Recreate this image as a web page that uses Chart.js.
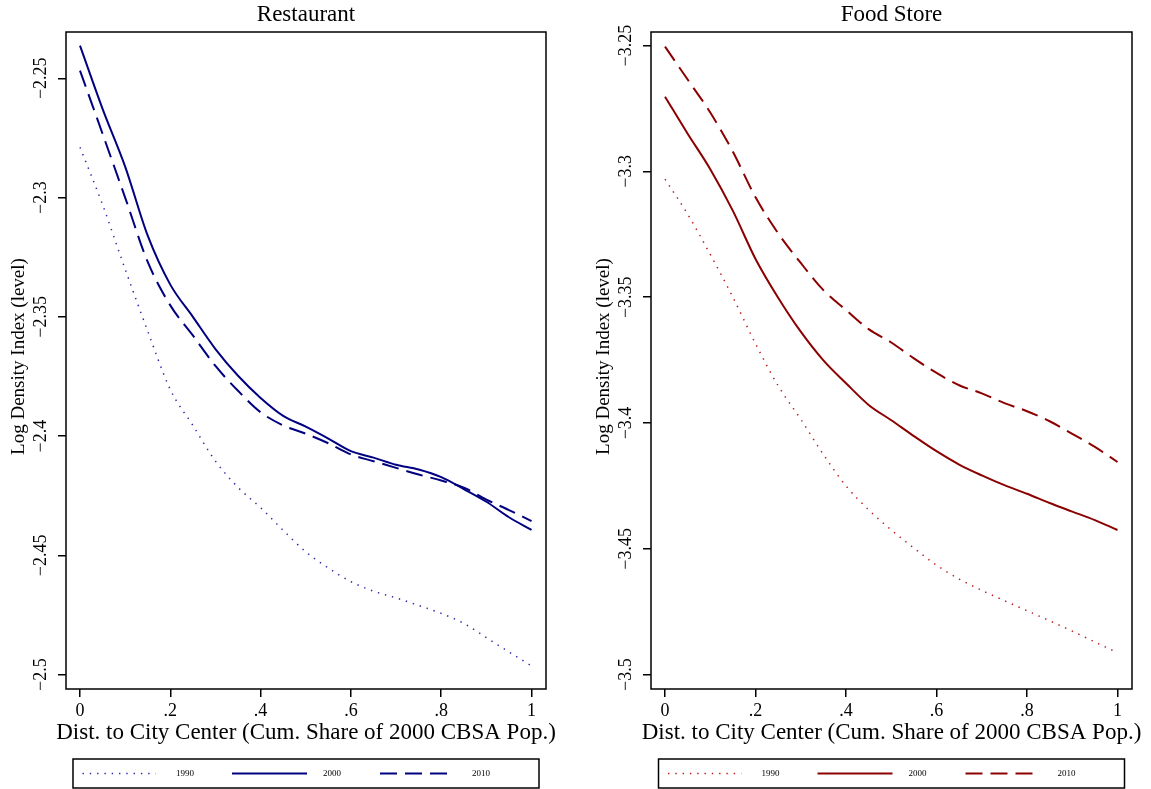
<!DOCTYPE html>
<html>
<head>
<meta charset="utf-8">
<script src="https://cdn.jsdelivr.net/npm/chart.js@4.4.0/dist/chart.umd.min.js"></script>
<style>
  html, body { margin: 0; padding: 0; background: #fff; }
  #wrap { position: relative; width: 1151px; height: 789px; }
  .panel { position: absolute; top: 0; width: 575px; height: 789px; }
</style>
</head>
<body>
<div id="wrap">
  <div class="panel" style="left:0"><canvas id="chartRestaurant"></canvas></div>
  <div class="panel" style="left:576px"><canvas id="chartFood"></canvas></div>
</div>
<script>
// Jarak ke pusat kota (share kumulatif populasi CBSA 2000)
const distShare = [0, 0.05, 0.10, 0.15, 0.20, 0.25, 0.30, 0.35, 0.40, 0.45, 0.50,
                   0.55, 0.60, 0.65, 0.70, 0.75, 0.80, 0.85, 0.90, 0.95, 1.00];

// Restaurant
const restaurant1990 = [-2.2789, -2.3030, -2.3300, -2.3560, -2.3805, -2.3955, -2.4105, -2.4215, -2.4300, -2.4395, -2.4485,
                        -2.4553, -2.4610, -2.4650, -2.4678, -2.4710, -2.4743, -2.4785, -2.4845, -2.4905, -2.4963];
const restaurant2000 = [-2.2363, -2.2628, -2.2870, -2.3160, -2.3365, -2.3500, -2.3635, -2.3747, -2.3840, -2.3915, -2.3960,
                        -2.4010, -2.4063, -2.4090, -2.4120, -2.4140, -2.4172, -2.4222, -2.4275, -2.4340, -2.4393];
const restaurant2010 = [-2.2468, -2.2733, -2.3000, -2.3270, -2.3452, -2.3578, -2.3706, -2.3810, -2.3900, -2.3955, -2.3990,
                        -2.4030, -2.4077, -2.4105, -2.4133, -2.4161, -2.4186, -2.4216, -2.4266, -2.4310, -2.4356];

// Food Store
const food1990 = [-3.3031, -3.3170, -3.3330, -3.3500, -3.3685, -3.3852, -3.3985, -3.4125, -3.4250, -3.4345, -3.4425,
                  -3.4497, -3.4565, -3.4620, -3.4665, -3.4706, -3.4746, -3.4786, -3.4827, -3.4870, -3.4913];
const food2000 = [-3.2703, -3.2850, -3.2991, -3.3157, -3.3348, -3.3502, -3.3637, -3.3751, -3.3842, -3.3928, -3.3989,
                  -3.4052, -3.4112, -3.4165, -3.4208, -3.4247, -3.4281, -3.4318, -3.4352, -3.4386, -3.4425];
const food2010 = [-3.2504, -3.2635, -3.2766, -3.2922, -3.3103, -3.3246, -3.3364, -3.3472, -3.3551, -3.3627, -3.3680,
                  -3.3743, -3.3801, -3.3850, -3.3882, -3.3921, -3.3953, -3.3993, -3.4043, -3.4095, -3.4155];

const xTicks = [0, 0.2, 0.4, 0.6, 0.8, 1];
const xTickLabels = ['0', '.2', '.4', '.6', '.8', '1'];
const restaurantYTicks = [-2.5, -2.45, -2.4, -2.35, -2.3, -2.25];
const foodYTicks = [-3.5, -3.45, -3.4, -3.35, -3.3, -3.25];
const legendYears = ['1990', '2000', '2010'];

const FONT = '"Liberation Serif", "Times New Roman", serif';

function toPoints(ys) {
    return ys.map((y, i) => ({ x: distShare[i], y: y }));
}

function fmtMinus(v) {
    return '\u2212' + String(Math.abs(+v.toFixed(2)));
}

// Plugin: bingkai, label sumbu Y, judul, legenda
const stataFrame = {
    id: 'stataFrame',
    afterDraw(chart, args, opts) {
        const { ctx, chartArea: a } = chart;
        const yScale = chart.scales.y;
        ctx.save();
        ctx.strokeStyle = '#000';
        ctx.lineWidth = 1.5;
        ctx.strokeRect(a.left, a.top, a.right - a.left, a.bottom - a.top);

        ctx.fillStyle = '#000';
        ctx.textAlign = 'center';
        ctx.textBaseline = 'middle';

        // label tick Y (diputar)
        ctx.font = '18px ' + FONT;
        opts.yTicks.forEach(v => {
            const py = yScale.getPixelForValue(v);
            ctx.save();
            ctx.translate(a.left - 25, py);
            ctx.rotate(-Math.PI / 2);
            ctx.fillText(fmtMinus(v), 0, 0);
            ctx.restore();
        });

        const cx = (a.left + a.right) / 2;
        const cy = (a.top + a.bottom) / 2;

        // judul sumbu Y
        ctx.font = '19px ' + FONT;
        ctx.save();
        ctx.translate(a.left - 47, cy - 4);
        ctx.rotate(-Math.PI / 2);
        ctx.fillText('Log Density Index (level)', 0, 0);
        ctx.restore();

        // judul panel & sumbu X
        ctx.font = '23px ' + FONT;
        ctx.fillText(opts.title, cx, 15);
        ctx.fillText('Dist. to City Center (Cum. Share of 2000 CBSA Pop.)', cx, 733);

        // legenda
        const bw = 466, bx = cx - bw / 2, by = 759, bh = 29, ly = by + bh / 2;
        ctx.lineWidth = 1.5;
        ctx.strokeStyle = '#000';
        ctx.strokeRect(bx, by, bw, bh);
        const sampleX = [[9.5, 82.8, 103], [159, 234, 250], [307, 378, 399]];
        chart.data.datasets.forEach((ds, i) => {
            const s = sampleX[i];
            ctx.save();
            ctx.strokeStyle = ds.borderColor;
            ctx.lineWidth = ds.borderWidth;
            ctx.setLineDash(ds.borderDash || []);
            ctx.beginPath();
            ctx.moveTo(bx + s[0], ly);
            ctx.lineTo(bx + s[1], ly);
            ctx.stroke();
            ctx.restore();
            ctx.font = '9px ' + FONT;
            ctx.textAlign = 'left';
            ctx.fillText(ds.label, bx + s[2], ly);
        });
        ctx.restore();
    }
};

function makePanel(canvasId, title, series, color, dotColor, yTicks, yMin, yMax, pad) {
    const ctx = document.getElementById(canvasId);
    const styles = [
        { borderColor: dotColor, borderWidth: 1.5, borderDash: [1.4, 5.9] },
        { borderColor: color, borderWidth: 2, borderDash: [] },
        { borderColor: color, borderWidth: 2, borderDash: [17, 8] }
    ];
    return new Chart(ctx, {
        type: 'line',
        data: {
            datasets: series.map((ys, i) => Object.assign({
                label: legendYears[i],
                data: toPoints(ys),
                pointRadius: 0,
                fill: false,
                cubicInterpolationMode: 'monotone',
                borderCapStyle: 'butt'
            }, styles[i]))
        },
        options: {
            responsive: true,
            maintainAspectRatio: false,
            animation: false,
            layout: { padding: pad },
            plugins: {
                legend: { display: false },
                tooltip: { enabled: false },
                stataFrame: { title: title, yTicks: yTicks }
            },
            scales: {
                x: {
                    type: 'linear',
                    min: -0.031,
                    max: 1.032,
                    afterBuildTicks: s => { s.ticks = xTicks.map(v => ({ value: v })); },
                    afterFit: s => { s.height = 40; },
                    border: { display: false },
                    grid: { drawOnChartArea: false, drawTicks: true, tickLength: 8, color: '#000', lineWidth: 1.5 },
                    ticks: {
                        autoSkip: false, maxRotation: 0, minRotation: 0, padding: 3, color: '#000',
                        font: { family: FONT, size: 18 },
                        callback: (v, i) => xTickLabels[i]
                    }
                },
                y: {
                    type: 'linear',
                    min: yMin,
                    max: yMax,
                    afterBuildTicks: s => { s.ticks = yTicks.map(v => ({ value: v })); },
                    afterFit: s => { s.width = 10; },
                    border: { display: false },
                    grid: { drawOnChartArea: false, drawTicks: true, tickLength: 8, color: '#000', lineWidth: 1.5 },
                    ticks: { display: false }
                }
            }
        },
        plugins: [stataFrame]
    });
}

makePanel('chartRestaurant', 'Restaurant', [restaurant1990, restaurant2000, restaurant2010],
    '#000080', '#2b2ba8', restaurantYTicks, -2.5060, -2.2306,
    { left: 56, right: 29, top: 32, bottom: 60 });
makePanel('chartFood', 'Food Store', [food1990, food2000, food2010],
    '#8B0000', '#c01818', foodYTicks, -3.5057, -3.2446,
    { left: 65, right: 19, top: 32, bottom: 60 });
</script>
</body>
</html>
